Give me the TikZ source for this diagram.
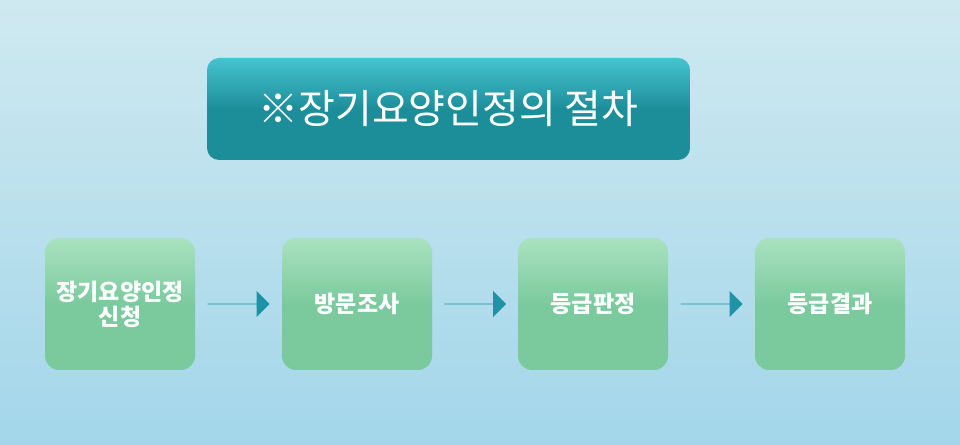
\documentclass[tikz,border=0pt]{standalone}
\usepackage{fontspec}
\newfontfamily\cjk{Noto Sans CJK KR}
\usetikzlibrary{shapes.arrows,calc}
\definecolor{bgtop}{HTML}{CFE9F0}
\definecolor{bgbot}{HTML}{A3D6EA}
\definecolor{teal1}{HTML}{1C8E9A}
\definecolor{teal2}{HTML}{45C3CF}
\definecolor{grn}{HTML}{7BCA9E}
\definecolor{grnl}{HTML}{A9E2BF}
\definecolor{arr}{HTML}{1E93A6}
\tikzset{
 stepbox/.style={rounded corners=14pt, minimum width=150pt, minimum height=132pt, inner sep=0pt,
   top color=grnl, bottom color=grn, middle color=grn, draw=none, align=center,
   font=\cjk\bfseries\fontsize{23}{25}\selectfont, text=white},
 blockarrow/.style={single arrow, fill=arr, draw=none, minimum width=46pt, single arrow head extend=10pt,
   minimum height=62pt, inner sep=0pt, single arrow head indent=0pt}
}
\begin{document}
\begin{tikzpicture}[x=1pt,y=1pt]
\useasboundingbox (0,0) rectangle (960,444);
\shade[top color=bgtop, bottom color=bgbot] (0,0) rectangle (960,444);
\node[rounded corners=12pt, minimum width=483pt, minimum height=102pt, top color=teal2, bottom color=teal1,
  middle color=teal1, text=white, font=\cjk\fontsize{40}{42}\selectfont] (title) at (448.5,335) {※장기요양인정의 절차};
\node[stepbox] (s1) at (120,140) {장기요양인정\\신청};
\node[stepbox] (s2) at (357,140) {방문조사};
\node[stepbox] (s3) at (593,140) {등급판정};
\node[stepbox] (s4) at (830,140) {등급결과};
\node[blockarrow, minimum width=26pt] (a1) at ($(s1)!0.5!(s2)$) {};
\node[blockarrow, minimum width=26pt] (a2) at ($(s2)!0.5!(s3)$) {};
\node[blockarrow, minimum width=26pt] (a3) at ($(s3)!0.5!(s4)$) {};
\end{tikzpicture}
\end{document}
